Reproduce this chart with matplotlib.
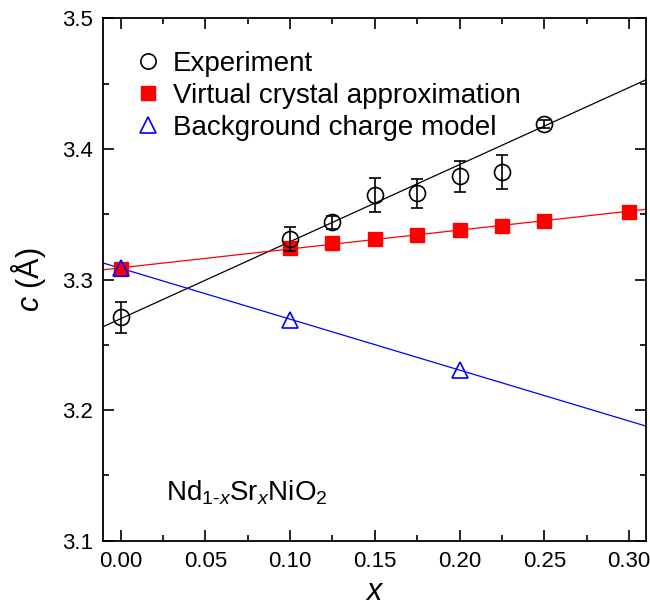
import numpy as np
import matplotlib.pyplot as plt
from matplotlib.ticker import MultipleLocator
from matplotlib.lines import Line2D

plt.rcParams['font.family'] = ['Liberation Sans', 'DejaVu Sans']
plt.rcParams['mathtext.fontset'] = 'custom'
plt.rcParams['mathtext.rm'] = 'Liberation Sans'
plt.rcParams['mathtext.it'] = 'Liberation Sans:italic'

# experiment
x_exp = [0.0, 0.1, 0.125, 0.15, 0.175, 0.2, 0.225, 0.25]
c_exp = [3.271, 3.331, 3.344, 3.365, 3.366, 3.379, 3.382, 3.419]
c_err = [0.012, 0.009, 0.005, 0.013, 0.011, 0.012, 0.013, 0.003]

# virtual crystal approximation
x_vca = [0.0, 0.1, 0.125, 0.15, 0.175, 0.2, 0.225, 0.25, 0.3]
c_vca = [3.308, 3.324, 3.328, 3.331, 3.334, 3.338, 3.341, 3.345, 3.352]

# background charge model
x_bcm = [0.0, 0.1, 0.2]
c_bcm = [3.309, 3.269, 3.231]

labels = ['Experiment', 'Virtual crystal approximation', 'Background charge model']

xlim = (-0.0105, 0.31)

fig = plt.figure(figsize=(6.5, 6.09), dpi=100)
ax = fig.add_axes([0.158, 0.112, 0.836, 0.858])

xs = np.array(xlim)
p = np.polyfit(x_exp, c_exp, 1, w=1 / np.array(c_err))
ax.plot(xs, np.polyval(p, xs), color='black', lw=0.9, zorder=1)
p = np.polyfit(x_vca, c_vca, 1)
ax.plot(xs, np.polyval(p, xs), color='red', lw=0.9, zorder=1)
p = np.polyfit(x_bcm, c_bcm, 1)
ax.plot(xs, np.polyval(p, xs), color='blue', lw=0.9, zorder=1)

ax.errorbar(x_exp, c_exp, yerr=c_err, fmt='o', ms=11.5, mfc='none', mec='black',
            mew=1.2, ecolor='black', elinewidth=1.2, capsize=4.5, capthick=1.2,
            zorder=3)
ax.plot(x_vca, c_vca, 's', ms=10, color='red', ls='none', zorder=2)
ax.plot(x_bcm, c_bcm, '^', ms=12, mfc='none', mec='blue', mew=1.2, ls='none',
        zorder=4)

ax.set_xlim(*xlim)
ax.set_ylim(3.1, 3.5)
ax.xaxis.set_minor_locator(MultipleLocator(0.025))
ax.yaxis.set_minor_locator(MultipleLocator(0.05))
ax.set_xticks([0, 0.05, 0.1, 0.15, 0.2, 0.25, 0.3])
ax.set_xticklabels(['0.00', '0.05', '0.10', '0.15', '0.20', '0.25', '0.30'])
ax.set_yticks([3.1, 3.2, 3.3, 3.4, 3.5])
ax.set_yticklabels(['3.1', '3.2', '3.3', '3.4', '3.5'])
ax.tick_params(which='both', direction='in', top=True, right=True, labelsize=16,
               width=1.2)
ax.tick_params(which='major', length=8, pad=7)
ax.tick_params(which='minor', length=4)
for s in ax.spines.values():
    s.set_linewidth(1.3)

ax.set_xlabel('$x$', fontsize=22, labelpad=4)
ax.set_ylabel('$c$ (Å)', fontsize=22, labelpad=10)

ax.text(0.027, 3.137, r'Nd$_{1\text{-}x}$Sr$_x$NiO$_2$', fontsize=20, va='center')

handles = [
    Line2D([], [], marker='o', ms=11, mfc='none', mec='black', mew=1.2, ls='none'),
    Line2D([], [], marker='s', ms=10, color='red', ls='none'),
    Line2D([], [], marker='^', ms=12, mfc='none', mec='blue', mew=1.2, ls='none'),
]
ax.legend(handles, labels, loc='upper left', bbox_to_anchor=(0.025, 0.975),
          frameon=False, fontsize=20, handlelength=0.9, handletextpad=0.45,
          labelspacing=0.22, borderaxespad=0.3)

fig.savefig('out.png', dpi=100)
